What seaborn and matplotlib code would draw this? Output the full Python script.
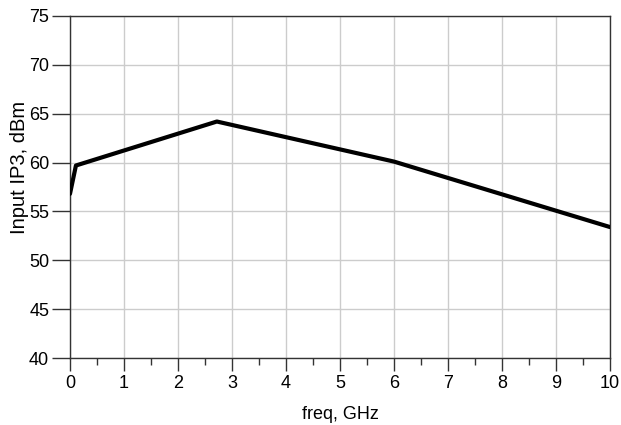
import numpy as np
import pandas as pd
import seaborn as sns
import matplotlib.pyplot as plt
from matplotlib.ticker import MultipleLocator

# values
freq_ghz = [0.0, 0.11, 2.72, 6.0, 10.0]
input_ip3 = [56.8, 59.7, 64.2, 60.1, 53.4]
x_ticks = [0, 1, 2, 3, 4, 5, 6, 7, 8, 9, 10]
y_ticks = [40, 45, 50, 55, 60, 65, 70, 75]

df = pd.DataFrame({"freq": freq_ghz, "ip3": input_ip3})

sns.set_style("white")
plt.rcParams['font.family'] = ['Liberation Sans', 'DejaVu Sans']

fig = plt.figure(figsize=(6.21, 4.25), dpi=100)
ax = fig.add_axes([0.1127, 0.1576, 0.8696, 0.8048])

sns.lineplot(data=df, x="freq", y="ip3", ax=ax, color="black", linewidth=3, zorder=3)

ax.set_xlim(0, 10)
ax.set_ylim(40, 75)
ax.set_xticks(x_ticks)
ax.set_yticks(y_ticks)
ax.xaxis.set_minor_locator(MultipleLocator(0.5))
ax.grid(True, which="major", color="#cccccc", linewidth=1)

for s in ax.spines.values():
    s.set_color("#333333")
    s.set_linewidth(1)

ax.tick_params(axis="x", which="both", bottom=True)
ax.tick_params(axis="y", which="both", left=True)
ax.tick_params(axis="x", which="major", direction="out", length=9, width=1, color="#333333", labelsize=13, labelcolor="black", pad=3)
ax.tick_params(axis="x", which="minor", direction="out", length=5, width=1, color="#333333")
ax.tick_params(axis="y", which="major", direction="out", length=13, width=1, color="#333333", labelsize=13, labelcolor="black", pad=2)

ax.set_xlabel("freq, GHz", fontsize=13, labelpad=10, color="black")
ax.set_ylabel("Input IP3, dBm", fontsize=14.5, color="black")
ax.yaxis.set_label_coords(-0.076, 0.556)

fig.savefig("out.png", dpi=100)
